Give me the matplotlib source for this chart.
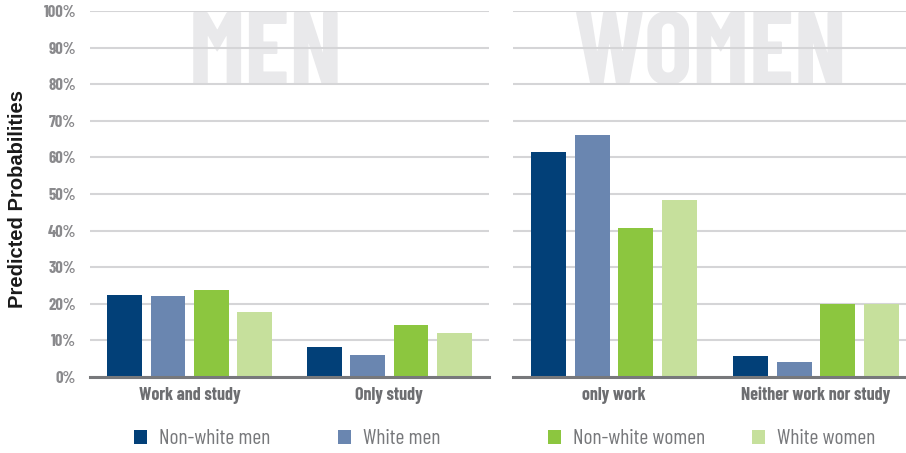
import matplotlib
matplotlib.use("Agg")
import matplotlib.pyplot as plt
import numpy as np
from matplotlib.patches import Patch

# Datos
cat_men = ["Work and study", "Only study"]
cat_women = ["only work", "Neither work nor study"]
series = ["Non-white men", "White men", "Non-white women", "White women"]
colores = ["#024078", "#6a86b0", "#8cc63f", "#c6e09c"]

men_vals = [
    [22.5, 8.2],   # Non-white men
    [22.2, 6.0],   # White men
    [23.8, 14.2],  # Non-white women
    [17.8, 12.0],  # White women
]
women_vals = [
    [61.6, 5.7],
    [66.2, 4.0],
    [40.7, 20.0],
    [48.4, 20.0],
]
yticks = np.arange(0, 101, 10)

fuente = ["Barlow Condensed", "DejaVu Sans"]
gris_tick = "#8a8a8d"
gris_cat = "#6d6e71"

fig = plt.figure(figsize=(9.06, 4.53), dpi=100)
ax1 = fig.add_axes([90 / 906, 76 / 453, 399 / 906, 366 / 453])
ax2 = fig.add_axes([513 / 906, 76 / 453, 404 / 906, 366 / 453])

ancho = 0.174
paso = 0.217
offsets = (np.arange(4) - 1.5) * paso

def dibujar(ax, categorias, valores, marca, xmarca):
    x = np.arange(len(categorias))
    for i in range(4):
        ax.bar(x + offsets[i], valores[i], width=ancho, color=colores[i], zorder=3)
    ax.set_xlim(-0.5, 1.5)
    ax.set_ylim(0, 100)
    ax.set_yticks(yticks)
    ax.yaxis.grid(True, color="#d5d5d7", linewidth=1.5, zorder=1)
    ax.set_axisbelow(True)
    for s in ["top", "right", "left"]:
        ax.spines[s].set_visible(False)
    ax.spines["bottom"].set_color("#77787b")
    ax.spines["bottom"].set_linewidth(2.2)
    ax.spines["bottom"].set_zorder(4)
    ax.set_xticks(x)
    ax.set_xticklabels(categorias, fontfamily=fuente, fontweight="bold",
                       fontsize=13, color=gris_cat)
    ax.tick_params(axis="x", length=0, pad=7)
    ax.tick_params(axis="y", length=0, pad=10)
    # marca de agua detras de la rejilla
    ax.text(xmarca, 0.80, marca, transform=ax.transAxes, ha="center", va="baseline",
            fontsize=74, fontweight="bold", fontfamily=fuente, color="#e9e9eb", zorder=0)

dibujar(ax1, cat_men, men_vals, "MEN", 0.441)
dibujar(ax2, cat_women, women_vals, "WOMEN", 0.49)

ax1.set_yticklabels([f"{v}%" for v in yticks], fontfamily=fuente, fontweight="bold",
                    fontsize=12, color=gris_tick)
ax2.set_yticklabels([])

fig.text(18 / 906, 1 - 199 / 453, "Predicted Probabilities", rotation=90,
         ha="center", va="center", fontsize=14.5, fontweight="bold",
         fontfamily=["Liberation Sans", "DejaVu Sans"], color="#1a1a1a")

# Leyenda: cada serie por separado
pos_x = [134, 338, 548, 752]
for i in range(4):
    h = Patch(facecolor=colores[i], edgecolor="none")
    fig.legend(handles=[h], labels=[series[i]], loc="center left",
               bbox_to_anchor=(pos_x[i] / 906, 1 - 439 / 453), frameon=False,
               borderpad=0, borderaxespad=0,
               handlelength=0.6, handleheight=0.6, handletextpad=0.55,
               prop={"family": fuente, "size": 15.5}, labelcolor="#77787b")

fig.savefig("out.png", dpi=100)
